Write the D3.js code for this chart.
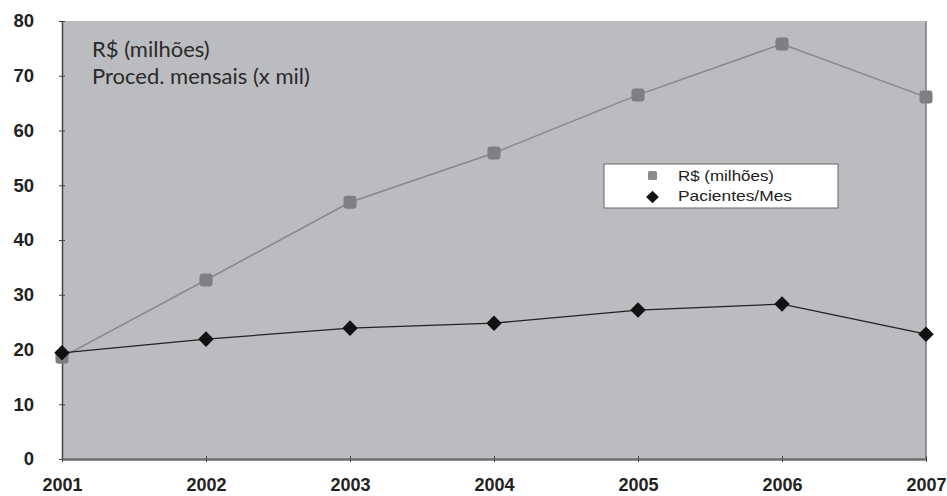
<!DOCTYPE html>
<html><head><meta charset="utf-8">
<script src="https://cdn.jsdelivr.net/npm/d3@7"></script>
<style>body{margin:0;background:#fff}svg{display:block}</style>
</head><body>
<svg id="c" width="947" height="496"></svg>
<script>
const years = [2001, 2002, 2003, 2004, 2005, 2006, 2007];
const reais = [18.6, 32.7, 46.9, 55.9, 66.5, 75.8, 66.1];
const pacientes = [19.4, 21.9, 23.9, 24.8, 27.2, 28.3, 22.8];
const yTicks = [0, 10, 20, 30, 40, 50, 60, 70, 80];
const seriesNames = ["R$ (milhões)", "Pacientes/Mes"];
const noteLines = ["R$ (milhões)", "Proced. mensais (x mil)"];

const svg = d3.select("#c");
const L = 62, R = 926, T = 21, B = 459;
const x = d3.scalePoint().domain(years).range([L, R]);
const y = d3.scaleLinear().domain([0, 80]).range([B, T]);

svg.append("rect").attr("x", L).attr("y", T).attr("width", R - L).attr("height", B - T).attr("fill", "#bbbcc0");
svg.append("line").attr("x1", R).attr("x2", R).attr("y1", T).attr("y2", B).attr("stroke", "#7a7a7e").attr("stroke-width", 1.5);

const tickFont = "Liberation Sans, Arial, sans-serif";
// y axis
const ya = svg.append("g").attr("transform", `translate(${L},0)`)
  .call(d3.axisLeft(y).tickValues(yTicks).tickSize(4).tickSizeOuter(0).tickPadding(24));
ya.select(".domain").attr("stroke", "#444").attr("stroke-width", 1.5);
ya.selectAll(".tick line").attr("stroke", "#444").attr("x2", 3).attr("x1", -3);
ya.selectAll("text").attr("font-family", tickFont).attr("font-weight", "bold")
  .attr("font-size", 18.5).attr("fill", "#222");

// x axis
const xa = svg.append("g").attr("transform", `translate(0,${B})`)
  .call(d3.axisBottom(x).tickSize(4).tickSizeOuter(0).tickPadding(15));
xa.select(".domain").attr("stroke", "#6e6e72").attr("stroke-width", 2.5);
xa.selectAll(".tick line").attr("stroke", "#444").attr("y1", -3).attr("y2", 3);
xa.selectAll("text").attr("font-family", tickFont).attr("font-weight", "bold")
  .attr("font-size", 18).attr("fill", "#222");

const line = d3.line().x((d, i) => x(years[i])).y(d => y(d));

// R$ series
svg.append("path").datum(reais).attr("d", line).attr("fill", "none").attr("stroke", "#88888c").attr("stroke-width", 1.5);
svg.selectAll(".sq").data(reais).join("rect").attr("class", "sq")
  .attr("x", (d, i) => x(years[i]) - 6.5).attr("y", d => y(d) - 6.5).attr("width", 13).attr("height", 13)
  .attr("rx", 3).attr("fill", "#7f7f83");

// Pacientes series
svg.append("path").datum(pacientes).attr("d", line).attr("fill", "none").attr("stroke", "#222").attr("stroke-width", 1.3);
svg.selectAll(".dm").data(pacientes).join("rect").attr("class", "dm")
  .attr("x", -5.5).attr("y", -5.5).attr("width", 11).attr("height", 11)
  .attr("transform", (d, i) => `translate(${x(years[i])},${y(d)}) rotate(45)`).attr("fill", "#111");

// note text
svg.selectAll(".note").data(noteLines).join("text").attr("class", "note")
  .attr("x", 92).attr("y", (d, i) => 57 + i * 27).text(d => d)
  .attr("font-family", "Lato, sans-serif").attr("font-size", 22).attr("fill", "#2a2a2a");

// legend
const lg = svg.append("g");
lg.append("rect").attr("x", 604).attr("y", 164).attr("width", 234).attr("height", 44)
  .attr("fill", "#fff").attr("stroke", "#666").attr("stroke-width", 1);
lg.append("rect").attr("x", 648).attr("y", 171).attr("width", 9).attr("height", 9).attr("rx", 1.5).attr("fill", "#8a8a8e");
lg.append("rect").attr("x", -4.5).attr("y", -4.5).attr("width", 9).attr("height", 9)
  .attr("transform", "translate(652.5,197) rotate(45)").attr("fill", "#111");
const legW = [96, 114];
lg.selectAll(".lt").data(seriesNames).join("text").attr("class", "lt")
  .attr("x", 678).attr("y", (d, i) => 181 + i * 20).text(d => d)
  .attr("textLength", (d, i) => legW[i]).attr("lengthAdjust", "spacingAndGlyphs")
  .attr("font-family", tickFont).attr("font-size", 14.5).attr("fill", "#222");
</script>
</body></html>
